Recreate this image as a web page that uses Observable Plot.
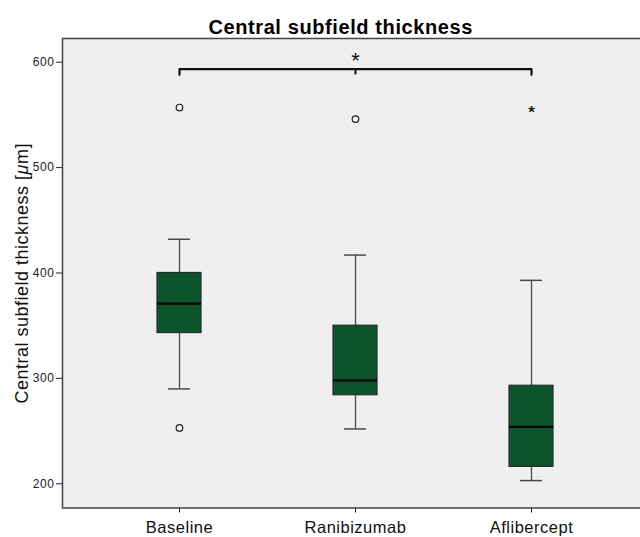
<!DOCTYPE html>
<html>
<head>
<meta charset="utf-8">
<script src="https://cdn.jsdelivr.net/npm/d3@7"></script>
<script src="https://cdn.jsdelivr.net/npm/@observablehq/plot@0.6"></script>
<style>
  html, body { margin: 0; padding: 0; background: #fff; overflow: hidden; }
  svg { overflow: hidden; }
  .ttl text { letter-spacing: 0.6px; }
  .ylab text { letter-spacing: 0.5px; }
  .yax text { letter-spacing: 0.6px; }
  .xax text { letter-spacing: 0.5px; }
</style>
</head>
<body>
<div id="chart"></div>
<script>
const groups = ["Baseline", "Ranibizumab", "Aflibercept"];
const whiskerLow = [290, 252, 203];
const q1 = [343, 284, 216];
const median = [371, 298, 254];
const q3 = [400, 350, 293];
const whiskerHigh = [432, 417, 393];
const outlierGroup = ["Baseline", "Baseline", "Ranibizumab", "Aflibercept"];
const outlierValue = [557, 253, 546, 556];
const outlierKind = ["circle", "circle", "circle", "extreme"];
const yTicks = [200, 300, 400, 500, 600];
const bracketFrom = "Baseline";
const bracketTo = "Aflibercept";
const bracketMid = "Ranibizumab";
const bracketY = 593.5;
const bracketDropY = 588;
const titleText = "Central subfield thickness";

const boxes = groups.map((g, i) => ({
  group: g, lo: whiskerLow[i], q1: q1[i], med: median[i], q3: q3[i], hi: whiskerHigh[i]
}));
const outliers = outlierGroup.map((g, i) => ({group: g, value: outlierValue[i], kind: outlierKind[i]}));
const bracket = [
  {group: bracketFrom, y: bracketDropY},
  {group: bracketFrom, y: bracketY},
  {group: bracketTo, y: bracketY},
  {group: bracketTo, y: bracketDropY}
];

const green = "#0b552d";

const plot = Plot.plot({
  width: 640,
  height: 537,
  marginLeft: 62,
  marginRight: -8.4,
  marginTop: 38,
  marginBottom: 29.5,
  style: {fontFamily: "'Liberation Sans', Arial, sans-serif", background: "#fff"},
  x: {domain: groups, type: "band", paddingInner: 0.75, paddingOuter: 0.54, label: null},
  y: {domain: [177, 622.5], label: null},
  marks: [
    Plot.frame({fill: "#efefef", stroke: null}),
    Plot.ruleX(boxes, {x: "group", y1: "lo", y2: "hi", stroke: "#4a4a4a", strokeWidth: 1.3}),
    Plot.tickY(boxes, {x: "group", y: "lo", stroke: "#4a4a4a", strokeWidth: 1.5, insetLeft: 11, insetRight: 11}),
    Plot.tickY(boxes, {x: "group", y: "hi", stroke: "#4a4a4a", strokeWidth: 1.5, insetLeft: 11, insetRight: 11}),
    Plot.barY(boxes, {x: "group", y1: "q1", y2: "q3", fill: green, stroke: "#2a2a2a", strokeWidth: 1.2}),
    Plot.tickY(boxes, {x: "group", y: "med", stroke: "#000", strokeWidth: 2.2}),
    Plot.dot(outliers.filter(d => d.kind === "circle"), {x: "group", y: "value", r: 3.3, stroke: "#222", strokeWidth: 1.2, fill: "none"}),
    Plot.text(outliers.filter(d => d.kind === "extreme"), {x: "group", y: "value", text: () => "*", fontSize: 17, fill: "#222", dy: 4, fontWeight: "bold"}),
    Plot.line(bracket, {x: "group", y: "y", stroke: "#111", strokeWidth: 2.2}),
    Plot.ruleX([bracketMid], {x: d => d, y1: bracketDropY, y2: bracketY, stroke: "#111", strokeWidth: 2}),
    Plot.text([bracketMid], {x: d => d, y: bracketY, text: () => "*", fontSize: 22, fill: "#111", dy: -8}),
    Plot.text([titleText], {frameAnchor: "top", dy: -19, dx: -15, text: d => d, fontSize: 20, fontWeight: "bold", fill: "#000", className: "ttl"}),
    Plot.text(["ylabel"], {frameAnchor: "left", dx: -40, rotate: -90, textAnchor: "middle", text: d => d, fontSize: 18, fill: "#111", className: "ylab"}),
    Plot.axisY({ticks: yTicks, tickSize: 6, tickPadding: 2, fontSize: 12, color: "#222", tickFormat: d => d, className: "yax"}),
    Plot.axisX({tickSize: 5, tickPadding: 8, fontSize: 16.5, color: "#111", className: "xax"}),
    Plot.frame({stroke: "#444", strokeWidth: 1.5})
  ]
});

// Rich y-axis label with italic mu
const ylab = plot.querySelector(".ylab text");
if (ylab) {
  ylab.textContent = "";
  const ns = "http://www.w3.org/2000/svg";
  const parts = [["Central subfield thickness [", false], ["μ", true], ["m]", false]];
  for (const [t, it] of parts) {
    const ts = document.createElementNS(ns, "tspan");
    ts.textContent = t;
    if (it) ts.setAttribute("font-style", "italic");
    ylab.appendChild(ts);
  }
}
document.getElementById("chart").appendChild(plot);
</script>
</body>
</html>
